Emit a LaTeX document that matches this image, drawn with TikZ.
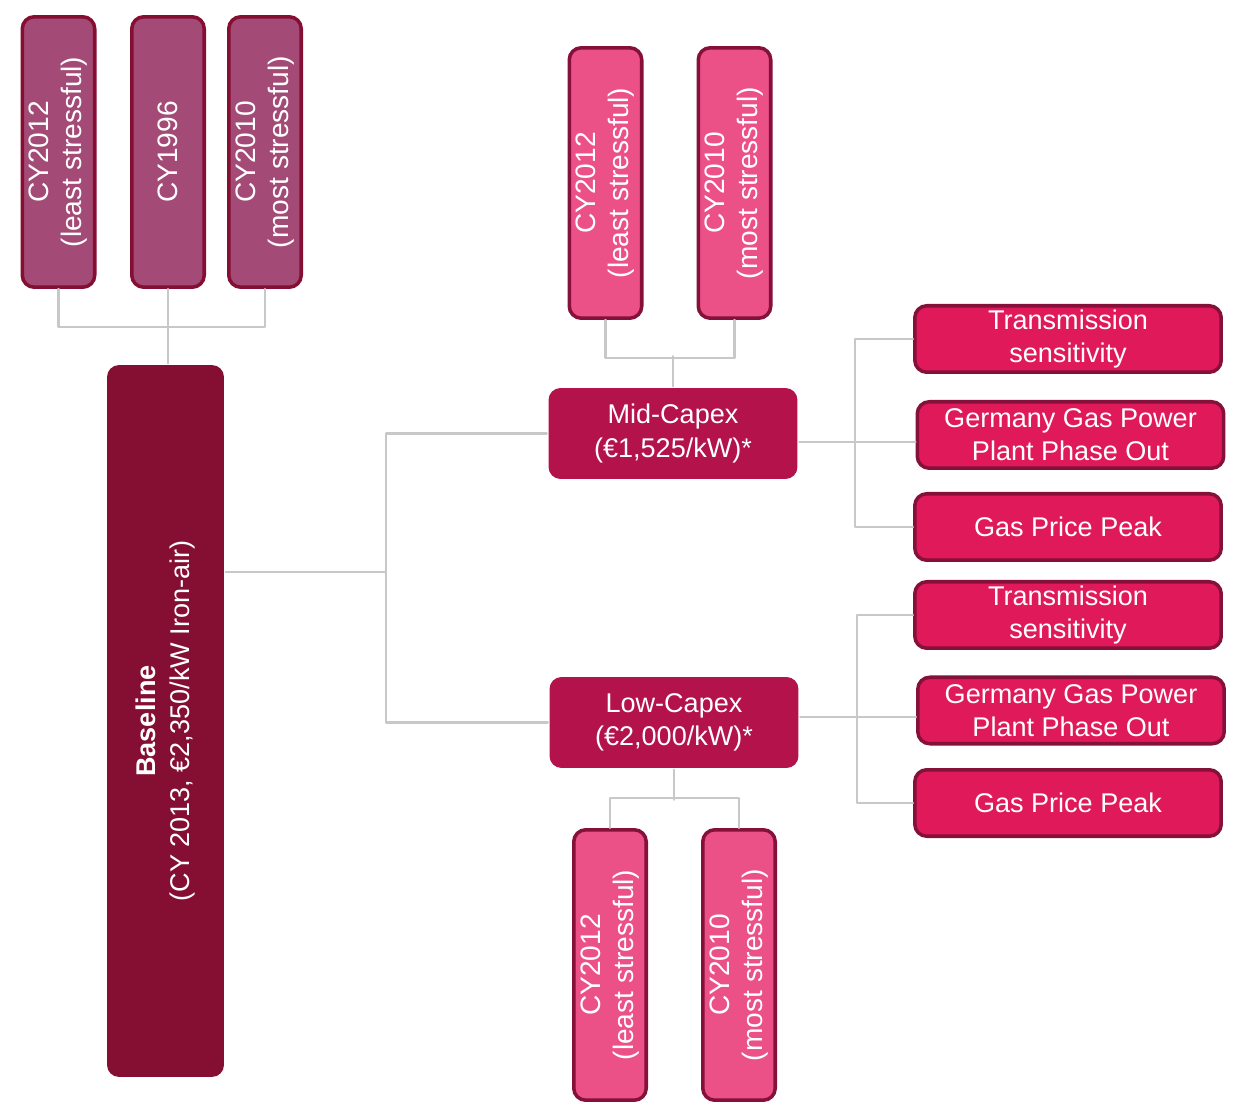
\documentclass[tikz,border=0pt]{standalone}
\usepackage{fontspec}
\setmainfont{Liberation Sans}
\definecolor{plum}{HTML}{A34B76}
\definecolor{wine}{HTML}{850F33}
\definecolor{berry}{HTML}{B3134A}
\definecolor{rose}{HTML}{EB5086}
\definecolor{crimson}{HTML}{E0195A}
\definecolor{edge}{HTML}{85103A}
\definecolor{wire}{HTML}{C8C8C8}

\begin{document}
\begin{tikzpicture}[x=0.02cm, y=-0.02cm, line join=round, line cap=round,
	font=\fontsize{15.4}{18.8}\selectfont,
	card/.style={draw=edge, line width=2pt, rounded corners=0.24cm, text=white, align=center, inner sep=0pt},
	yearbox/.style={card, rotate=90, minimum width=5.41cm, minimum height=1.45cm, font=\fontsize{16}{18.8}\selectfont},
	sensbox/.style={card, fill=crimson, minimum width=6.13cm, minimum height=1.33cm},
	capex/.style={card, draw=none, fill=berry, minimum width=4.98cm, minimum height=1.82cm},
	link/.style={draw=wire, line width=1.3pt}]
	\useasboundingbox (0, 0) rectangle (1248, 1114);
	\node[yearbox, fill=plum, draw=wine] (y12) at (58.5, 152) {CY2012\\(least stressful)};
	\node[yearbox, fill=plum, draw=wine] (y96) at (168, 152) {CY1996};
	\node[yearbox, fill=plum, draw=wine] (y10) at (265, 152) {CY2010\\(most stressful)};
	\node[card, draw=none, fill=wine, rotate=90, minimum width=14.24cm, minimum height=2.34cm] (base) at (165.5, 721) {\textbf{Baseline}\\(CY 2013, €2,350/kW Iron-air)};
	\node[capex] (mid) at (673, 433.5) {Mid-Capex\\(€1,525/kW)*};
	\node[capex] (low) at (674, 722.5) {Low-Capex\\(€2,000/kW)*};
	\node[yearbox, fill=rose] (m12) at (605.5, 183) {CY2012\\(least stressful)};
	\node[yearbox, fill=rose] (m10) at (734.5, 183) {CY2010\\(most stressful)};
	\node[yearbox, fill=rose] (l12) at (610, 965) {CY2012\\(least stressful)};
	\node[yearbox, fill=rose] (l10) at (739, 965) {CY2010\\(most stressful)};
	\node[sensbox] (t1) at (1068, 339) {Transmission\\sensitivity};
	\node[sensbox] (g1) at (1070.5, 435) {Germany Gas Power\\Plant Phase Out};
	\node[sensbox] (p1) at (1068, 527) {Gas Price Peak};
	\node[sensbox] (t2) at (1068, 615) {Transmission\\sensitivity};
	\node[sensbox] (g2) at (1071, 710.5) {Germany Gas Power\\Plant Phase Out};
	\node[sensbox] (p2) at (1068, 803) {Gas Price Peak};
	\coordinate (fork) at (386, 572);
	\coordinate (mj) at (855, 442);
	\coordinate (lj) at (857, 717);
	\draw[link] (y12.west) -- ++(0, 38) -| (y10.west);
	\draw[link] (y96.west) -- (y96.west |- base.east);
	\draw[link] (base.south |- fork) -- (fork);
	\draw[link] (mid.west) -| (fork) |- (low.west);
	\draw[link] (m12.west) -- ++(0, 38) -| (m10.west);
	\draw[link] (mid.north) -- ++(0, -30);
	\draw[link] (l12.east) -- ++(0, -30) -| (l10.east);
	\draw[link] (low.south) -- ++(0, 30);
	\draw[link] (mid.east |- mj) -- (mj);
	\draw[link] (t1.west) -| (mj) |- (p1.west);
	\draw[link] (mj) -- (mj -| g1.west);
	\draw[link] (low.east |- lj) -- (lj);
	\draw[link] (t2.west) -| (lj) |- (p2.west);
	\draw[link] (lj) -- (lj -| g2.west);
\end{tikzpicture}
\end{document}
